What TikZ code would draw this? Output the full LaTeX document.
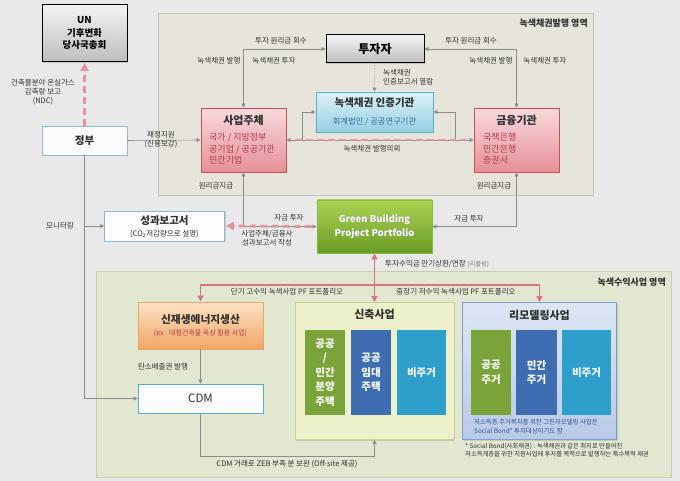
\documentclass[tikz,border=0pt]{standalone}
\usepackage{fontspec}
\setmainfont{Noto Sans CJK KR}
\usetikzlibrary{arrows.meta,shadows}
\definecolor{bg}{HTML}{E9E9E9}
\definecolor{regT}{HTML}{E6E4DB}
\definecolor{regTb}{HTML}{C6C4B8}
\definecolor{regB}{HTML}{E2E7D2}
\definecolor{regBb}{HTML}{C5CCB0}
\definecolor{txt}{HTML}{303030}
\definecolor{lc}{HTML}{8C8C8C}
\definecolor{pk}{HTML}{E3959D}
\definecolor{pk2}{HTML}{D97382}
\definecolor{redb}{HTML}{C8505E}
\definecolor{redtop}{HTML}{F8DADD}
\definecolor{redbot}{HTML}{E68F99}
\definecolor{redt}{HTML}{B23A4A}
\definecolor{certb}{HTML}{55AECB}
\definecolor{certtop}{HTML}{DDF1F7}
\definecolor{certbot}{HTML}{95D0E3}
\definecolor{certt}{HTML}{2F6C9E}
\definecolor{govb}{HTML}{8DB9CD}
\definecolor{gbb}{HTML}{8AB83E}
\definecolor{gbtop}{HTML}{ABD352}
\definecolor{gbbot}{HTML}{6A9C27}
\definecolor{renb}{HTML}{E9A565}
\definecolor{rentop}{HTML}{FCE3C6}
\definecolor{renbot}{HTML}{F1A564}
\definecolor{newf}{HTML}{EDF1CB}
\definecolor{newb}{HTML}{C8D28C}
\definecolor{remb}{HTML}{7E9ED2}
\definecolor{remtop}{HTML}{DDE6F4}
\definecolor{rembot}{HTML}{B9CAE8}
\definecolor{ig}{HTML}{7AA43A}
\definecolor{ib}{HTML}{3F6DB2}
\definecolor{ic}{HTML}{2E9FCB}
\definecolor{notet}{HTML}{2E5590}
\tikzset{
  box/.style={draw, minimum width=#1, inner sep=0pt, align=center, drop shadow={shadow xshift=1.3pt,shadow yshift=-1.3pt,opacity=0.3}},
  graybox/.style={box=#1, draw=black, line width=1pt, top color=gray!10, bottom color=gray!50, text=black},
  redbox/.style={box=#1, draw=redb, line width=0.9pt, top color=redtop, bottom color=redbot},
  lab/.style={font=\fontsize{7.5}{9.2}\selectfont, text=txt, inner sep=0pt, align=center},
  conn/.style={draw=lc, line width=0.6pt, -{Triangle[length=4pt,width=4pt]}},
  both/.style={{Triangle[length=4pt,width=4pt]}-{Triangle[length=4pt,width=4pt]}},
  pinkdash/.style={draw=pk, line width=2.8pt, dash pattern=on 7pt off 4pt},
  pinkline/.style={draw=pk2, line width=1.3pt},
  ptip/.style={-{Triangle[length=6pt,width=6pt]}},
  inner/.style={minimum width=#1, minimum height=85pt, inner sep=0pt, align=center, text=white, font=\fontsize{10.5}{14.5}\selectfont\bfseries},
}
\begin{document}
\begin{tikzpicture}[x=1pt,y=-1pt]
\useasboundingbox (0,0) rectangle (680,481);
\fill[bg] (0,0) rectangle (680,481);
% regions
\draw[regTb, fill=regT, line width=0.6pt] (158,13) rectangle (593,195);
\draw[regBb, fill=regB, line width=0.6pt] (96,271) rectangle (671,477);
\node[anchor=east, font=\fontsize{9}{10}\selectfont\bfseries, text=txt, inner sep=0pt] (regTl) at (588,23) {녹색채권발행 영역};
\node[anchor=east, font=\fontsize{9}{10}\selectfont\bfseries, text=txt, inner sep=0pt] (regBl) at (666,282) {녹색수익사업 영역};

% nodes
\node[graybox=85pt, minimum height=57pt, font=\fontsize{9.5}{12.5}\selectfont\bfseries] (un) at (84.5,33) {UN\\기후변화\\당사국총회};
\node[graybox=98pt, minimum height=28pt, font=\fontsize{12}{13}\selectfont\bfseries] (inv) at (375,49) {투자자};
\node[box=117pt, minimum height=40pt, draw=certb, line width=0.9pt, top color=certtop, bottom color=certbot] (cert) at (374.5,112) {};
\node[font=\fontsize{10.5}{12}\selectfont\bfseries, text=txt, inner sep=0pt] (certT) at (374.5,103) {녹색채권 인증기관};
\node[font=\fontsize{8.3}{10}\selectfont, text=certt, inner sep=0pt] (certS) at (374.5,122) {회계법인 / 공공연구기관};

\node[redbox=85pt, minimum height=64pt] (biz) at (243.5,140) {};
\node[font=\fontsize{11}{12}\selectfont\bfseries, text=txt, inner sep=0pt] (bizT) at (243.5,120) {사업주체};
\node[anchor=north west, align=left, font=\fontsize{9}{11.5}\selectfont, text=redt, inner sep=0pt] (bizS) at (209,133) {국가 / 지방정부\\공기업 / 공공기관\\민간기업};

\node[redbox=85pt, minimum height=64pt] (fin) at (516.5,140) {};
\node[font=\fontsize{11}{12}\selectfont\bfseries, text=txt, inner sep=0pt] (finT) at (516.5,120) {금융기관};
\node[anchor=north west, align=left, font=\fontsize{9}{11.5}\selectfont, text=redt, inner sep=0pt] (finS) at (483,133) {국책은행\\민간은행\\증권사};

\node[box=85pt, minimum height=29pt, draw=govb, line width=0.9pt, fill=white!60!bg!50!white, font=\fontsize{10.5}{12}\selectfont\bfseries, text=txt] (gov) at (84.5,140.5) {정부};

\node[box=120pt, minimum height=30pt, draw=govb, line width=0.9pt, fill=white!92!bg] (rep) at (164.5,226) {};
\node[font=\fontsize{10.5}{12}\selectfont\bfseries, text=txt, inner sep=0pt] (repT) at (164.5,221) {성과보고서};
\node[font=\fontsize{7.5}{9}\selectfont, text=txt, inner sep=0pt] (repS) at (164.5,234) {(CO\textsubscript{2}저감량으로 설명)};

\node[box=115pt, minimum height=53pt, draw=gbb, line width=0.9pt, top color=gbtop, bottom color=gbbot] (gb) at (374.5,226.5) {};
\node[font=\fontsize{9.5}{14}\selectfont\bfseries, text=black!45, inner sep=0pt, align=center] (gbS) at (375.1,227.1) {Green Building\\Project Portfolio};
\node[font=\fontsize{9.5}{14}\selectfont\bfseries, text=white!95!gbtop, inner sep=0pt, align=center] (gbT) at (374.5,226.5) {Green Building\\Project Portfolio};

\node[box=125pt, minimum height=47pt, draw=renb, line width=0.9pt, top color=rentop, bottom color=renbot] (ren) at (200.5,325.5) {};
\node[font=\fontsize{10.7}{12}\selectfont\bfseries, text=txt, inner sep=0pt] (renT) at (200.5,320) {신재생에너지생산};
\node[font=\fontsize{7}{8}\selectfont, text=redt, inner sep=0pt] (renS) at (200.5,333) {(ex : 대형건축물 옥상 활용 사업)};

\node[box=125pt, minimum height=29pt, draw=certb, line width=0.9pt, fill=white!92!bg, font=\fontsize{11.5}{13}\selectfont, text=txt] (cdm) at (200.5,398.5) {CDM};

\node[box=159pt, minimum height=137pt, draw=newb, line width=0.9pt, fill=newf] (new) at (374.5,371) {};
\node[font=\fontsize{11}{12}\selectfont\bfseries, text=txt, inner sep=0pt] (newT) at (374.5,314) {신축사업};
\node[inner=40pt, fill=ig] (n1) at (325,372.5) {공공\\/\\민간\\분양\\주택};
\node[inner=40pt, fill=ib] (n2) at (371,372.5) {공공\\임대\\주택};
\node[inner=49pt, fill=ic] (n3) at (421.5,372.5) {비주거};

\node[box=154pt, minimum height=137pt, draw=remb, line width=0.9pt, top color=remtop, bottom color=rembot] (remo) at (539.5,371) {};
\node[font=\fontsize{11}{12}\selectfont\bfseries, text=txt, inner sep=0pt] (remoT) at (539.5,315) {리모델링사업};
\node[inner=40pt, fill=ig] (r1) at (491,372.5) {공공\\주거};
\node[inner=41pt, fill=ib] (r2) at (536.5,372.5) {민간\\주거};
\node[inner=49pt, fill=ic] (r3) at (586.5,372.5) {비주거};
\node[anchor=north west, align=left, font=\fontsize{6.4}{9}\selectfont, text=notet, inner sep=0pt] (remoN) at (474,419) {저소득층 주거복지를 위한 그린리모델링 사업은\\Social Bond* 투자대상이기도 함};
\node[anchor=north west, align=left, font=\fontsize{6.3}{8.5}\selectfont, text=txt, inner sep=0pt] (foot) at (465,443) {* Social Bond(사회채권) : 녹색채권과 같은 취지로 만들어진\\저소득계층을 위한 지원사업에 투자를 목적으로 발행하는 특수목적 채권};

% connectors
\draw[pinkdash] (gov.north) -- ([yshift=-5pt]un.south);
\fill[pk] ([yshift=-1pt]un.south) -- ++(-4.5pt,-8pt) -- ++(9pt,0) -- cycle;
\node[lab] (ndc) at (43,92) {건축물분야 온실가스\\감축량 보고\\(NDC)};

\draw[conn] (gov.east) -- (biz.west);
\node[lab] (fund) at (161,139.5) {재정지원\\(신용보강)};

\draw[conn] (gov.south) |- (rep.west);
\draw[conn] (gov.south) |- (cdm.west);
\node[lab] (mon) at (60,226) {모니터링};

\draw[conn, both] (biz.north) |- (inv.west);
\node[lab] (l1) at (281,41) {투자 원리금 회수};
\node[lab] (l2) at (219,61) {녹색채권 발행};
\node[lab] (l3) at (274,61) {녹색채권 투자};
\draw[conn, both] (fin.north) |- (inv.east);
\node[lab] (r1l) at (471,41) {투자 원리금 회수};
\node[lab] (r2l) at (491,61) {녹색채권 발행};
\node[lab] (r3l) at (545,61) {녹색채권 투자};

\draw[conn, densely dotted] (inv.south) -- (cert.north);
\node[lab, anchor=west, align=left] (read) at (383,77) {녹색채권\\인증보고서 열람};

\coordinate (lb) at (302,140);
\coordinate (rb) at (455,140);
\draw[conn] (lb) |- (cert.west);
\draw[conn] (rb) |- (cert.east);
\draw[conn, both] (biz.east) -- (fin.west);
\draw[pinkdash] ([xshift=9pt]biz.east) -- ([xshift=-7pt]fin.west);
\node[lab] (req) at (372,149) {녹색채권 발행의뢰};

\draw[conn, both] (biz.south) |- (gb.west);
\node[lab] (pay1) at (216,186) {원리금지급};
\draw[conn, both] (fin.south) |- (gb.east);
\node[lab] (pay2) at (494,186) {원리금지급};
\node[lab] (inv1) at (289,218) {자금 투자};
\node[lab] (inv2) at (469,219) {자금 투자};
\draw[pinkdash] ([xshift=-5pt]gb.west) -- ([xshift=7pt]rep.east);
\fill[pk] ([xshift=1pt]rep.east) -- ++(8pt,4.5pt) -- ++(0,-9pt) -- cycle;
\node[lab] (wr) at (267,238) {사업주체/금융사\\성과보고서 작성};

\draw[pinkline, {Triangle[length=6pt,width=6pt]}-{Triangle[length=6pt,width=6pt]}] (gb.south) -- (new.north);
\node[lab, anchor=west] (rev) at (385,264) {투자수익금 만기상환/연장 {\fontsize{6.3}{7}\selectfont\color{gray}(리볼빙)}};
\coordinate (pj) at (374.5,285);
\draw[pinkline, ptip] (pj) -| (ren.north);
\draw[pinkline, ptip] (pj) -| (remo.north);
\node[lab] (pf1) at (287,292) {단기 고수익 녹색사업 PF 포트폴리오};
\node[lab] (pf2) at (456,292) {중장기 저수익 녹색사업 PF 포트폴리오};

\draw[conn] (ren.south) -- (cdm.north);
\node[lab] (co) at (163,367) {탄소배출권 발행};
\coordinate (cb) at (200.5,456);
\draw[conn] (cdm.south) -- (cb) -| (new.south);
\node[lab] (off) at (287,464) {CDM 거래로 ZEB 부족 분 보완 (Off-site 제공)};
\end{tikzpicture}
\end{document}
